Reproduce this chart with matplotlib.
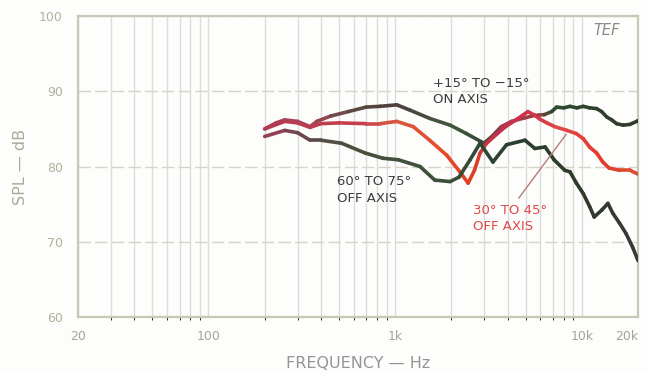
import numpy as np
import matplotlib
matplotlib.use('Agg')
import matplotlib.pyplot as plt
from matplotlib.collections import LineCollection
from matplotlib.colors import to_rgb
from matplotlib.ticker import FixedLocator, LogLocator, NullFormatter

# response curves, frequency in Hz and level in dB SPL
freq_on = [200, 230, 256, 300, 350, 380, 450, 560, 700, 830, 1020, 1200, 1530, 1970,
           2400, 2990, 3300, 3700, 4200, 5000, 5600, 6300, 6890, 7330, 8000, 8640,
           9400, 10180, 11000, 12000, 12770, 13580, 14450, 15360, 16670, 18100, 19660, 20000]
spl_on = [85.0, 85.8, 86.2, 86.0, 85.3, 86.0, 86.7, 87.3, 87.9, 88.0, 88.2, 87.5, 86.4, 85.5,
          84.4, 83.1, 84.0, 85.3, 86.0, 86.5, 86.8, 86.9, 87.3, 87.9, 87.8, 88.0,
          87.8, 88.0, 87.8, 87.7, 87.3, 86.6, 86.2, 85.7, 85.5, 85.6, 86.0, 86.1]

freq_30 = [200, 256, 300, 350, 400, 500, 700, 830, 1020, 1250, 1530, 1890, 2220, 2460,
           2660, 2850, 3090, 3500, 3900, 4500, 5140, 5600, 5960, 6500, 7160, 8330,
           9300, 10180, 11000, 12000, 12950, 14000, 15900, 18100, 20000]
spl_30 = [85.0, 86.0, 85.8, 85.2, 85.7, 85.8, 85.7, 85.7, 86.0, 85.3, 83.5, 81.5, 79.3, 77.8,
          79.5, 81.8, 83.1, 84.3, 85.3, 86.3, 87.3, 86.8, 86.3, 85.8, 85.3, 84.8,
          84.4, 83.7, 82.6, 81.8, 80.6, 79.8, 79.5, 79.5, 79.0]

freq_60 = [200, 256, 300, 350, 400, 516, 690, 860, 1040, 1360, 1630, 1970, 2200, 2520,
           2850, 3340, 3950, 4960, 5600, 6360, 7100, 8100, 8640, 9350, 10180, 11000,
           11650, 12770, 13800, 14650, 15900, 17250, 18700, 20000]
spl_60 = [84.0, 84.8, 84.5, 83.5, 83.5, 83.1, 81.8, 81.1, 80.9, 80.0, 78.2, 78.0, 78.6, 80.9,
          83.1, 80.6, 82.9, 83.5, 82.4, 82.6, 80.9, 79.5, 79.3, 77.8, 76.4, 74.7,
          73.3, 74.2, 75.1, 73.8, 72.5, 71.1, 69.3, 67.5]

x_ticks = [20, 100, 1000, 10000, 20000]
x_labels = ['20', '100', '1k', '10k', '20k']
y_ticks = [60, 70, 80, 90, 100]

# ink colour along each trace (frequency, colour)
tint_on = [(200, '#a8405a'), (380, '#a04858'), (600, '#5a4a40'), (1000, '#503c3c'),
           (2000, '#3e5a3e'), (3000, '#3a4a3a'), (4000, '#b03850'), (6000, '#904040'),
           (7000, '#2e4a30'), (20000, '#303a2c')]
tint_30 = [(200, '#b03a50'), (700, '#c84050'), (1000, '#d85a40'), (1800, '#e84a2a'),
           (2600, '#e04020'), (3500, '#c03050'), (5000, '#d03048'), (8000, '#e04848'),
           (12000, '#e83830'), (20000, '#d85030')]
tint_60 = [(200, '#a04058'), (350, '#604848'), (600, '#4a5040'), (2000, '#3a5038'),
           (4000, '#2a4030'), (10000, '#303a28'), (20000, '#383838')]


def tinted_line(ax, f, db, stops, lw=2.6):
    f = np.asarray(f, float)
    db = np.asarray(db, float)
    pts = np.column_stack([f, db])
    segs = np.stack([pts[:-1], pts[1:]], axis=1)
    mid = np.log10(np.sqrt(f[:-1] * f[1:]))
    sf = np.log10([s[0] for s in stops])
    sc = np.array([to_rgb(s[1]) for s in stops])
    cols = np.column_stack([np.interp(mid, sf, sc[:, i]) for i in range(3)])
    lc = LineCollection(segs, colors=cols, linewidths=lw, capstyle='round',
                        joinstyle='round', zorder=3)
    ax.add_collection(lc)


fig = plt.figure(figsize=(6.48, 3.73), dpi=100, facecolor='#fdfdfb')
ax = fig.add_axes([0.1204, 0.150, 0.8642, 0.807])
ax.set_facecolor('#fdfdfb')
ax.set_xscale('log')
ax.set_xlim(20, 20000)
ax.set_ylim(60, 100)

ax.xaxis.set_major_locator(FixedLocator(x_ticks))
ax.xaxis.set_minor_locator(LogLocator(base=10, subs=np.arange(2, 10)))
ax.xaxis.set_minor_formatter(NullFormatter())
ax.set_xticklabels(x_labels)
ax.set_yticks(y_ticks)
ax.tick_params(length=0, labelsize=9)
ax.tick_params(axis='x', pad=9, colors='#a4a4a0')
ax.tick_params(axis='y', pad=11, colors='#b0b29e')
# keep the last frequency label inside the figure
ax.get_xticklabels()[-1].set_horizontalalignment('right')
ax.get_xticklabels()[-1].set_x(20000)

ax.xaxis.grid(True, which='both', color='#dcdcdc', lw=1.0, zorder=0)
ax.yaxis.grid(True, which='major', color='#d4d4cc', lw=1.0, ls=(0, (9, 3)), zorder=0)
for s in ax.spines.values():
    s.set_color('#c6c8b8')
    s.set_linewidth(1.6)

tinted_line(ax, freq_on, spl_on, tint_on)
tinted_line(ax, freq_30, spl_30, tint_30)
tinted_line(ax, freq_60, spl_60, tint_60)

ax.text(1594, 90.0, '+15° TO −15°\nON AXIS', fontsize=9.5, color='#3c3c3c',
        ha='left', va='center', linespacing=1.35)
ax.text(488, 76.9, '60° TO 75°\nOFF AXIS', fontsize=9.5, color='#3c3c3c',
        ha='left', va='center', linespacing=1.35)
ax.text(2600, 73.1, '30° TO 45°\nOFF AXIS', fontsize=9.5, color='#e04848',
        ha='left', va='center', linespacing=1.35)
ax.annotate('', xy=(8420, 84.6), xytext=(4500, 75.5),
            arrowprops=dict(arrowstyle='-', color='#b87a78', lw=1.0))
ax.text(11460, 98.1, 'TEF', fontsize=10.5, style='italic', color='#8a8a8a',
        ha='left', va='center')

ax.set_xlabel('FREQUENCY — Hz', fontsize=11.5, color='#949494', labelpad=10)
ax.set_ylabel('SPL — dB', fontsize=11.5, color='#a8ac98', labelpad=8)

fig.savefig('out.png', dpi=100, facecolor=fig.get_facecolor())
